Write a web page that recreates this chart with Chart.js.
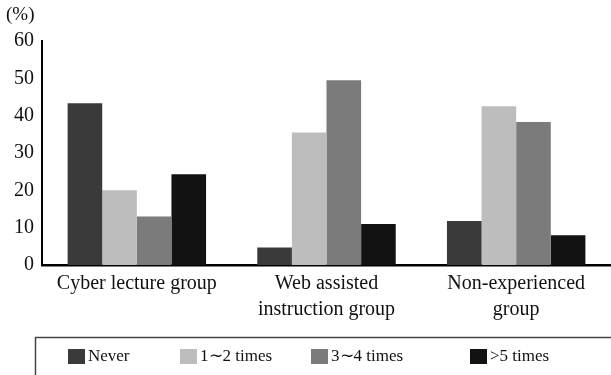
<!DOCTYPE html>
<html>
<head>
<meta charset="utf-8">
<script src="https://cdn.jsdelivr.net/npm/chart.js@4/dist/chart.umd.min.js"></script>
<style>
  html, body { margin: 0; padding: 0; background: #fff; }
  #wrap { width: 611px; height: 375px; position: relative; }
</style>
</head>
<body>
<div id="wrap"><canvas id="myChart"></canvas></div>
<script>
"use strict";

// data
const groups = [
  "Cyber lecture group",
  ["Web assisted", "instruction group"],
  ["Non-experienced", "group"]
];
const seriesNames = ["Never", "1\u223c2 times", "3\u223c4 times", ">5 times"];
const never = [43.3, 4.7, 11.8];
const oneToTwo = [20, 35.5, 42.5];
const threeToFour = [13, 49.5, 38.3];
const overFive = [24.3, 11, 8];
const seriesColors = ["#3a3a3a", "#bdbdbd", "#7b7b7b", "#121212"];

const yTicks = [0, 10, 20, 30, 40, 50, 60];
const unitLabel = "(%)";

const serif = "'Liberation Serif', 'Times New Roman', serif";

// left edge of each legend entry
const legendX = [68, 180, 311, 470];

const framedLegend = {
  id: "framedLegend",
  afterDraw(chart) {
    const ctx = chart.ctx;
    ctx.save();
    // unit label top left
    ctx.fillStyle = "#111";
    ctx.font = "19px " + serif;
    ctx.textBaseline = "middle";
    ctx.textAlign = "left";
    ctx.fillText(unitLabel, 6, 15);

    // legend frame
    ctx.strokeStyle = "#444";
    ctx.lineWidth = 1.5;
    ctx.strokeRect(35.5, 337.5, 640, 80);

    ctx.font = "17px " + serif;
    chart.data.datasets.forEach((ds, i) => {
      const x = legendX[i];
      ctx.fillStyle = ds.backgroundColor;
      ctx.fillRect(x, 349, 17, 15);
      ctx.fillStyle = "#111";
      ctx.fillText(ds.label, x + 20, 357);
    });
    ctx.restore();
  }
};

function makeChart() {
  const ctx = document.getElementById("myChart");
  const valueLists = [never, oneToTwo, threeToFour, overFive];

  const datasets = seriesNames.map((name, i) => ({
    label: name,
    data: valueLists[i],
    backgroundColor: seriesColors[i],
    borderWidth: 0,
    categoryPercentage: 0.73,
    barPercentage: 1.0
  }));

  new Chart(ctx, {
    type: "bar",
    data: { labels: groups, datasets: datasets },
    plugins: [framedLegend],
    options: {
      responsive: true,
      maintainAspectRatio: false,
      animation: false,
      layout: { padding: { top: 41, bottom: 38, left: 0, right: -3 } },
      plugins: {
        legend: { display: false },
        tooltip: { enabled: false }
      },
      scales: {
        x: {
          grid: { display: false, drawTicks: false },
          border: { color: "#000", width: 2.5 },
          ticks: {
            color: "#111",
            padding: 6,
            maxRotation: 0,
            autoSkip: false,
            font: { family: serif, size: 20, lineHeight: 1.3 }
          },
          afterFit(scale) { scale.height = 72; }
        },
        y: {
          min: 0,
          max: 60,
          grid: { display: false, drawTicks: false },
          border: { color: "#000", width: 2 },
          afterBuildTicks(scale) {
            scale.ticks = yTicks.map(v => ({ value: v }));
          },
          ticks: {
            color: "#111",
            padding: 8,
            font: { family: serif, size: 20 }
          },
          afterFit(scale) { scale.width = 42; }
        }
      }
    }
  });
}

window.addEventListener("DOMContentLoaded", makeChart);
</script>
</body>
</html>
